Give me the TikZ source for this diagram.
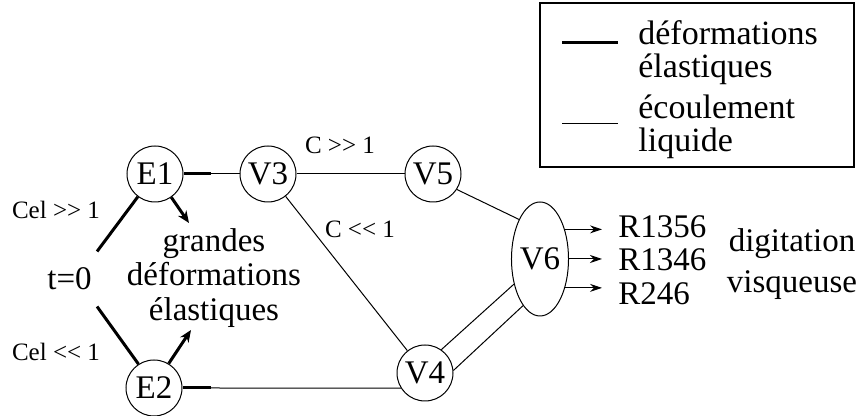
\documentclass[tikz,border=0pt]{standalone}
\usepackage{fontspec}
\setmainfont{Liberation Serif}
\usetikzlibrary{positioning, arrows.meta, shapes.geometric}

\begin{document}
\begin{tikzpicture}[
    x=0.5pt, y=-0.5pt,
    state/.style={circle, draw, line width=0.5pt, inner sep=0pt, minimum size=28pt, font=\fontsize{16.5}{18}\selectfont},
    txt/.style={align=center, font=\fontsize{16.5}{17.3}\selectfont},
    rlbl/.style={anchor=west, inner xsep=8pt, inner ysep=0pt, font=\fontsize{16.5}{18}\selectfont},
    lbl/.style={font=\fontsize{12.5}{14}\selectfont},
    legtxt/.style={anchor=north west, inner sep=0pt, align=left, font=\fontsize{17}{16.5}\selectfont},
    elastic/.style={line width=1.5pt},
    liquid/.style={line width=0.5pt},
    push/.style={-{Stealth[length=6pt, width=5pt]}, line width=1.5pt},
    flow/.style={-{Stealth[length=6pt, width=4pt]}, line width=0.5pt}
]
\useasboundingbox (0,0) rectangle (864,416);

% Legend
\draw[line width=0.6pt] (540,3) rectangle (854,167);
\draw[elastic] (562,43) -- (618,43);
\draw[liquid] (562,124) -- (618,124);
\node[legtxt] (leg1) at (638,20) {déformations\\élastiques};
\node[legtxt] (leg2) at (638,94) {écoulement\\liquide};

% States
\node[state] (E1) at (155,174) {E1};
\node[state] (V3) at (268,174) {V3};
\node[state] (V5) at (433,174) {V5};
\node[state] (E2) at (154,388) {E2};
\node[state] (V4) at (425,373) {V4};
\node[state, ellipse, minimum width=28pt, minimum height=57pt] (V6) at (540,259) {V6};

% Start and texts
\node[txt, inner xsep=2.5pt, inner ysep=8pt] (t0) at (69.5,279) {t=0};
\node[txt] (big) at (214,278) {grandes\\déformations\\élastiques};
\node[lbl] (cel1) at (56,210) {Cel >{}> 1};
\node[lbl] (cel2) at (56,352) {Cel <{}< 1};
\node[lbl] (c1) at (340,145) {C >{}> 1};
\node[lbl] (c2) at (360,229) {C <{}< 1};

% Results
\node[rlbl] (r1) at (602,227) {R1356};
\node[rlbl] (r2) at (602,260) {R1346};
\node[rlbl] (r3) at (602,294) {R246};
\node[txt, font=\fontsize{16.5}{20.5}\selectfont] (dv) at (792,264) {digitation\\visqueuse};

\coordinate (a1) at (189,223);
\coordinate (a2) at (191,330);
\coordinate (m1) at (211,174);
\coordinate (m2) at (211,388);

% Elastic branches
\draw[elastic] (t0.north east) -- (E1.233);
\draw[elastic] (t0.south east) -- (E2.123);
\draw[push] (E1.-55) -- (a1);
\draw[push] (E2.59) -- (a2);
\draw[elastic] (E1.east) -- (m1);
\draw[elastic] (E2.east) -- (m2);

% Liquid flow
\draw[liquid] (m1) -- (V3.west);
\draw[liquid] (m2) -- (V4.212);
\draw[liquid] (V3) -- (V5);
\draw[liquid] (V3) -- (V4);
\draw[liquid] (V5.-33) -- (V6.118);
\draw[liquid] (V4.55) -- (V6.224);
\draw[liquid] (V4.5) -- (V6.250);

% Outputs
\draw[flow] (V6.50) -- (V6.50 -| r1.west);
\draw[flow] (V6.east) -- (V6.east -| r2.west);
\draw[flow] (V6.-49) -- (V6.-49 -| r3.west);

\end{tikzpicture}
\end{document}
